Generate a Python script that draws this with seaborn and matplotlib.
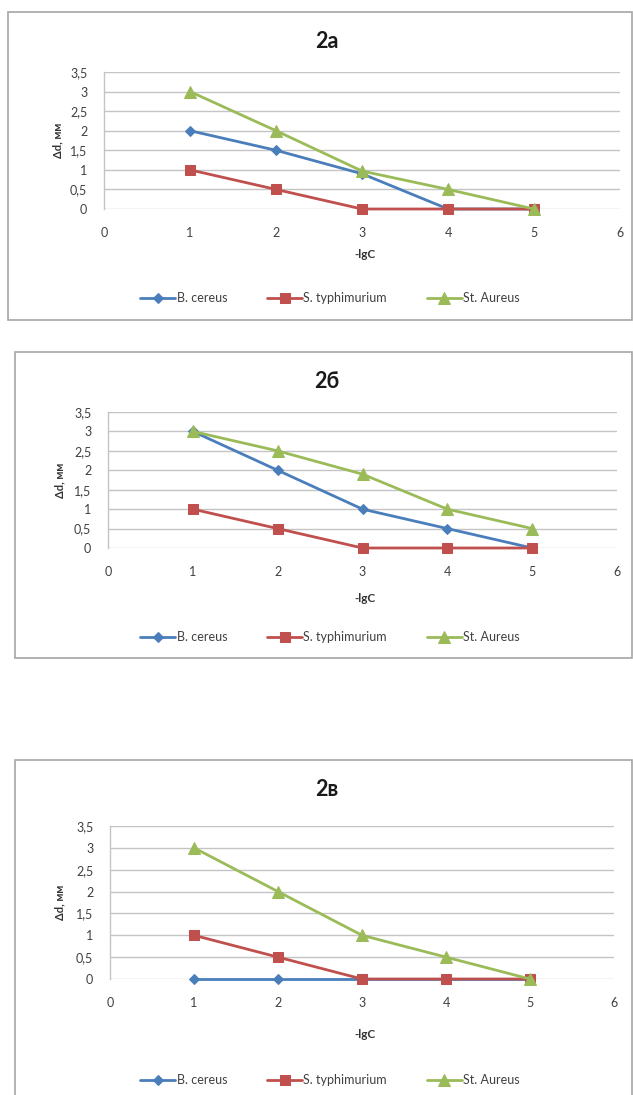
import matplotlib
matplotlib.use("Agg")
import matplotlib.pyplot as plt
import seaborn as sns
import pandas as pd
from matplotlib.patches import Rectangle
from matplotlib.ticker import FuncFormatter

# data
x_lgc = [1, 2, 3, 4, 5]
series_names = ["B. cereus", "S. typhimurium", "St. Aureus"]

# 2a
a_cereus = [2, 1.5, 0.9, 0, 0]
a_typhi = [1, 0.5, 0, 0, 0]
a_aureus = [3, 2, 0.97, 0.5, 0]

# 2б
b_cereus = [3, 2, 1, 0.5, 0]
b_typhi = [1, 0.5, 0, 0, 0]
b_aureus = [3, 2.5, 1.9, 1, 0.5]

# 2в
c_cereus = [0, 0, 0, 0, 0]
c_typhi = [1, 0.5, 0, 0, 0]
c_aureus = [3, 2, 1, 0.5, 0]

titles = ["2а", "2б", "2в"]
y_ticks = [0, 0.5, 1, 1.5, 2, 2.5, 3, 3.5]
x_ticks = [0, 1, 2, 3, 4, 5, 6]

colors = {"B. cereus": "#4a7ebb", "S. typhimurium": "#c0504d", "St. Aureus": "#9bbb59"}
markers = {"B. cereus": "D", "S. typhimurium": "s", "St. Aureus": "^"}
msizes = {"B. cereus": 5, "S. typhimurium": 7.5, "St. Aureus": 8}

W, H = 633, 1095

sns.set_theme(style="white")
plt.rcParams["font.family"] = ["Lato", "Open Sans", "DejaVu Sans"]


def fx(x):
    return x / W


def fy(y):
    return 1 - y / H


fig = plt.figure(figsize=(W / 100, H / 100), dpi=100)

# panel layouts in pixels
panels = [
    dict(box=(8, 12, 632, 320), ax=(104, 620, 72, 209), title=42, xlab=255, leg=298, ylab=58),
    dict(box=(15, 352, 632, 658), ax=(108, 617, 412, 548), title=382, xlab=598, leg=637, ylab=60),
    dict(box=(15, 760, 632, 1110), ax=(110, 614, 826, 979), title=790, xlab=1035, leg=1080, ylab=60),
]

data_sets = [
    [a_cereus, a_typhi, a_aureus],
    [b_cereus, b_typhi, b_aureus],
    [c_cereus, c_typhi, c_aureus],
]

comma = FuncFormatter(lambda v, p: ("%g" % v).replace(".", ","))

for i, p in enumerate(panels):
    l, t, r, b = p["box"]
    fig.patches.append(Rectangle((fx(l), fy(b)), fx(r - l), (b - t) / H,
                                 transform=fig.transFigure, fill=False,
                                 edgecolor="#a6a6a6", lw=1.2, zorder=0))
    al, ar, at, ab = p["ax"]
    ax = fig.add_axes([fx(al), fy(ab), fx(ar - al), (ab - at) / H])
    ax.patch.set_alpha(0)

    for name, vals in zip(series_names, data_sets[i]):
        df = pd.DataFrame({"lgC": x_lgc, "dd": vals})
        sns.lineplot(data=df, x="lgC", y="dd", ax=ax, color=colors[name],
                     marker=markers[name], markersize=msizes[name],
                     markeredgecolor=colors[name], lw=2, label=name,
                     clip_on=False, legend=False)

    ax.set_xlim(0, 6)
    ax.set_ylim(0, 3.5)
    ax.set_xticks(x_ticks)
    ax.set_yticks(y_ticks)
    ax.yaxis.set_major_formatter(comma)
    ax.grid(axis="y", color="#c4c4c4", lw=1)
    ax.set_axisbelow(True)
    for s in ["top", "right", "bottom"]:
        ax.spines[s].set_visible(False)
    ax.spines["left"].set_color("#c4c4c4")
    ax.spines["left"].set_linewidth(1)
    ax.tick_params(length=0, labelsize=9, colors="#404040")
    ax.tick_params(axis="x", pad=13)
    ax.tick_params(axis="y", pad=12)
    ax.set_xlabel("")
    ax.set_ylabel("")

    fig.text(fx(327), fy(p["title"]), titles[i], ha="center", va="center",
             fontsize=15.5, fontweight="bold", color="#1a1a1a")
    fig.text(fx(p["ylab"]), fy((at + ab) / 2), "Δd, мм", rotation=90, ha="center",
             va="center", fontsize=8, fontweight="bold", color="#333333")
    fig.text(fx((al + ar) / 2 + 3), fy(p["xlab"]), "-lgC", ha="center", va="center",
             fontsize=8.5, fontweight="bold", color="#333333")

    handles, labels = ax.get_legend_handles_labels()
    fig.legend(handles, labels, loc="center", bbox_to_anchor=(fx(330), fy(p["leg"])),
               ncol=3, frameon=False, fontsize=9, handlelength=2.8, handletextpad=0.1,
               columnspacing=3.2, labelcolor="#404040")

fig.savefig("out.png", dpi=100)
